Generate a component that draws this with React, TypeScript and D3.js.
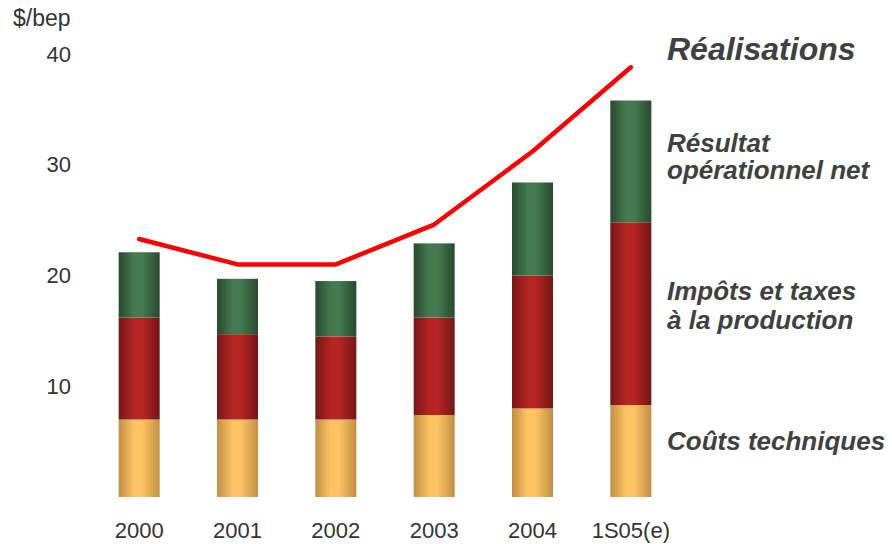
import React from "react";
import * as d3 from "d3";

const categories = ["2000", "2001", "2002", "2003", "2004", "1S05(e)"];
const coutsTechniques = [7.0, 7.0, 7.0, 7.4, 8.0, 8.3];
const impotsTaxes = [9.2, 7.7, 7.5, 8.8, 12.0, 16.5];
const resultatNet = [5.9, 5.0, 5.0, 6.7, 8.4, 11.0];
const realisations = [23.3, 21.0, 21.0, 24.6, 31.2, 38.8];
const yTicks = [10, 20, 30, 40];

const seriesKeys = ["couts", "impots", "resultat"];
const gradients: Record<string, [string, string, string]> = {
  couts: ["#c08f45", "#fec362", "#c08f45"],
  impots: ["#761717", "#b62424", "#741616"],
  resultat: ["#284a2e", "#457a50", "#284a2e"],
};

export default function App() {
  const W = 892, H = 544;
  const x = d3.scalePoint<string>().domain(categories).range([90, 680]).padding(0.5);
  const y = d3.scaleLinear().domain([0, 40]).range([497, 54]);
  const barW = 41;

  const rows = categories.map((c, i) => ({
    cat: c,
    couts: coutsTechniques[i],
    impots: impotsTaxes[i],
    resultat: resultatNet[i],
  }));
  const stack = d3.stack<any>().keys(seriesKeys)(rows);

  const line = d3
    .line<number>()
    .x((_, i) => x(categories[i]) as number)
    .y((d) => y(d));

  const font = "'Liberation Sans', Arial, sans-serif";

  return (
    <svg width={W} height={H} style={{ position: "absolute", left: 0, top: 0, background: "#fff" }}>
      <defs>
        {seriesKeys.map((k) => (
          <linearGradient key={k} id={`g-${k}`} x1="0" x2="1" y1="0" y2="0">
            <stop offset="0%" stopColor={gradients[k][0]} />
            <stop offset="38%" stopColor={gradients[k][1]} />
            <stop offset="58%" stopColor={gradients[k][1]} />
            <stop offset="100%" stopColor={gradients[k][2]} />
          </linearGradient>
        ))}
      </defs>
      <text x={13} y={26} fontFamily={font} fontSize={23} fill="#333">$/bep</text>
      {yTicks.map((t) => (
        <text key={t} x={71} y={y(t)} dy="0.35em" textAnchor="end" fontFamily={font} fontSize={22} fill="#333">
          {t}
        </text>
      ))}
      {stack.map((s) => (
        <g key={s.key} fill={`url(#g-${s.key})`}>
          {s.map((d, i) => (
            <rect
              key={i}
              x={(x(categories[i]) as number) - barW / 2}
              width={barW}
              y={y(d[1])}
              height={y(d[0]) - y(d[1])}
            />
          ))}
        </g>
      ))}
      <path d={line(realisations) || ""} fill="none" stroke="#ff0000" strokeWidth={4.5} strokeLinecap="round" strokeLinejoin="round" />
      {categories.map((c) => (
        <text key={c} x={x(c)} y={538} textAnchor="middle" fontFamily={font} fontSize={22} fill="#333">
          {c}
        </text>
      ))}
      <g fontFamily={font} fontWeight="bold" fontStyle="italic" fill="#404040">
        <text x={667} y={60} fontSize={32}>Réalisations</text>
        <text x={667} y={152} fontSize={26}>Résultat</text>
        <text x={667} y={179} fontSize={26}>opérationnel net</text>
        <text x={667} y={300} fontSize={26}>Impôts et taxes</text>
        <text x={667} y={329} fontSize={26}>à la production</text>
        <text x={667} y={450} fontSize={26}>Coûts techniques</text>
      </g>
    </svg>
  );
}
